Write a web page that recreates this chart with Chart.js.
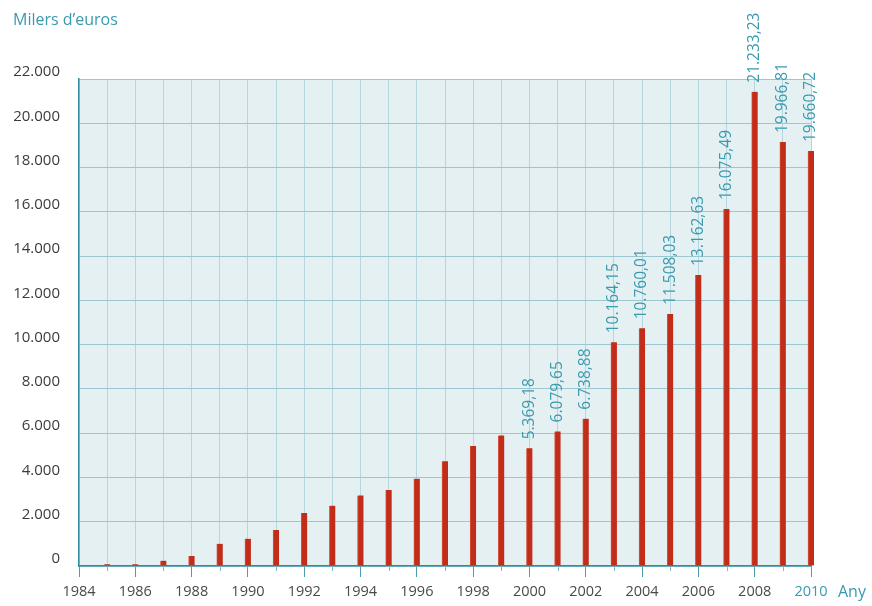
<!DOCTYPE html>
<html>
<head>
<meta charset="utf-8">
<script src="https://cdn.jsdelivr.net/npm/chart.js@4/dist/chart.umd.min.js"></script>
<style>
  body { margin: 0; background: #fff; }
  #wrap { width: 872px; height: 606px; }
</style>
</head>
<body>
<div id="wrap"><canvas id="chart" width="872" height="606"></canvas></div>
<script>
// Dades
const years = [1985, 1986, 1987, 1988, 1989, 1990, 1991, 1992, 1993, 1994, 1995, 1996, 1997,
  1998, 1999, 2000, 2001, 2002, 2003, 2004, 2005, 2006, 2007, 2008, 2009, 2010];
const values = [80, 80, 240, 450, 1000, 1235, 1625, 2395, 2725, 3190, 3435, 3945, 4730,
  5420, 5900, 5315, 6080, 6655, 10105, 10735, 11385, 13145, 16125, 21425, 19150, 18745];
const labelYears = [2000, 2001, 2002, 2003, 2004, 2005, 2006, 2007, 2008, 2009, 2010];
const labelTexts = ['5.369,18', '6.079,65', '6.738,88', '10.164,15', '10.760,01', '11.508,03',
  '13.162,63', '16.075,49', '21.233,23', '19.966,81', '19.660,72'];

const teal = '#3a9aae';
const axisTeal = '#2f8d9f';
const font = "'Open Sans', sans-serif";

function fmt(v) {
  return String(v).replace(/\B(?=(\d{3})+(?!\d))/g, '.');
}

function tickVal(ctx) {
  return ctx.tick ? ctx.tick.value : null;
}

// fons de l'àrea i textos extra
const extras = {
  id: 'extras',
  beforeDraw(chart) {
    const a = chart.chartArea, c = chart.ctx;
    c.save();
    c.fillStyle = '#e5f0f3';
    c.fillRect(a.left, a.top, a.right - a.left, a.bottom - a.top);
    c.restore();
  },
  afterDatasetsDraw(chart) {
    const c = chart.ctx;
    const meta = chart.getDatasetMeta(0);
    const x = chart.scales.x;
    c.save();
    // marques curtes anys senars
    c.strokeStyle = '#7fb9c6';
    c.lineWidth = 1;
    years.forEach(y => {
      if (y % 2 === 1) {
        const px = Math.round(x.getPixelForValue(y)) + 0.5;
        c.beginPath();
        c.moveTo(px, x.top);
        c.lineTo(px, x.top + 5);
        c.stroke();
      }
    });
    // etiquetes de valor
    c.fillStyle = teal;
    c.font = '15.5px ' + font;
    c.textAlign = 'left';
    c.textBaseline = 'middle';
    labelYears.forEach((y, i) => {
      const bar = meta.data[years.indexOf(y)];
      c.save();
      c.translate(bar.x, bar.y - 9);
      c.rotate(-Math.PI / 2);
      c.fillText(labelTexts[i], 0, 0);
      c.restore();
    });
    // títol i eix
    c.font = '16px ' + font;
    c.textBaseline = 'middle';
    c.fillText('Milers d’euros', 13, 20);
    c.fillText('Any', 838, 592);
    c.restore();
  }
};

new Chart(document.getElementById('chart'), {
  type: 'bar',
  data: {
    datasets: [{
      data: years.map((y, i) => ({ x: y, y: values[i] })),
      backgroundColor: '#c22d1a',
      borderColor: '#d2543f',
      borderWidth: { left: 1, right: 0, top: 0, bottom: 0 },
      barThickness: 6,
      clip: false
    }]
  },
  options: {
    responsive: false,
    animation: false,
    layout: { padding: { left: 0, top: 79, right: 61, bottom: 0 } },
    plugins: { legend: { display: false }, tooltip: { enabled: false } },
    scales: {
      x: {
        type: 'linear',
        min: 1984,
        max: 2010,
        offset: false,
        afterFit: s => { s.height = 40; },
        ticks: {
          stepSize: 1,
          autoSkip: false,
          maxRotation: 0,
          padding: 6,
          font: { family: font, size: 14.5 },
          color: ctx => tickVal(ctx) === 2010 ? teal : '#4a4a4a',
          callback: v => v % 2 === 0 ? String(v) : ''
        },
        grid: {
          offset: false,
          color: '#b5d6de',
          tickLength: 11,
          tickColor: ctx => tickVal(ctx) % 2 === 0 ? '#4d9fb0' : 'rgba(0,0,0,0)'
        },
        border: { color: axisTeal, width: 1.5 }
      },
      y: {
        min: 0,
        max: 22000,
        afterFit: s => { s.width = 79; },
        ticks: {
          stepSize: 2000,
          padding: 19,
          labelOffset: -7,
          font: { family: font, size: 15 },
          color: '#3c3c3c',
          callback: v => fmt(v)
        },
        grid: { color: '#9cc7d1', drawTicks: false },
        border: { color: axisTeal, width: 1.5 }
      }
    }
  },
  plugins: [extras]
});
</script>
</body>
</html>
